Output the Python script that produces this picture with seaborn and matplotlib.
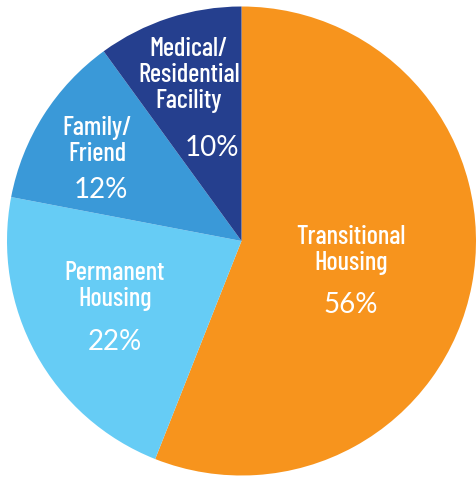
import matplotlib
matplotlib.use("Agg")
import matplotlib.pyplot as plt
import seaborn as sns

# data
categories = ["Transitional\nHousing", "Permanent\nHousing", "Family/\nFriend", "Medical/\nResidential\nFacility"]
shares = [56, 22, 12, 10]
colors = ["#F7941D", "#66CCF5", "#3A99D8", "#253F8E"]

# label placement (pixel centers of label block and percent text)
label_px = [(351, 250), (115, 286), (97, 141), (189, 75)]
pct_px = [(351, 305), (115, 342), (101, 190), (212, 148)]

sns.set_style("white")

W, H = 476, 481
cx, cy, R = 241.5, 242, 234.5

fig = plt.figure(figsize=(W / 100, H / 100), dpi=100)
ax = fig.add_axes([0, 0, 1, 1])
ax.pie(shares, colors=colors, startangle=90, counterclock=False,
       radius=1, center=(0, 0), wedgeprops=dict(linewidth=0))
ax.set_xlim(-cx / R, (W - cx) / R)
ax.set_ylim(-(H - cy) / R, cy / R)
ax.set_aspect("auto")
ax.axis("off")


def to_data(p):
    return (p[0] - cx) / R, (cy - p[1]) / R


for lab, v, lp, pp in zip(categories, shares, label_px, pct_px):
    x, y = to_data(lp)
    ax.text(x, y, lab, ha="center", va="center", color="white",
            fontsize=19, fontweight=500, linespacing=1.1,
            family=["Barlow Condensed", "DejaVu Sans"])
    x, y = to_data(pp)
    ax.text(x, y, f"{v}%", ha="center", va="center", color="white",
            fontsize=20, family=["Lato", "DejaVu Sans"])

fig.savefig("out.png", dpi=100)
